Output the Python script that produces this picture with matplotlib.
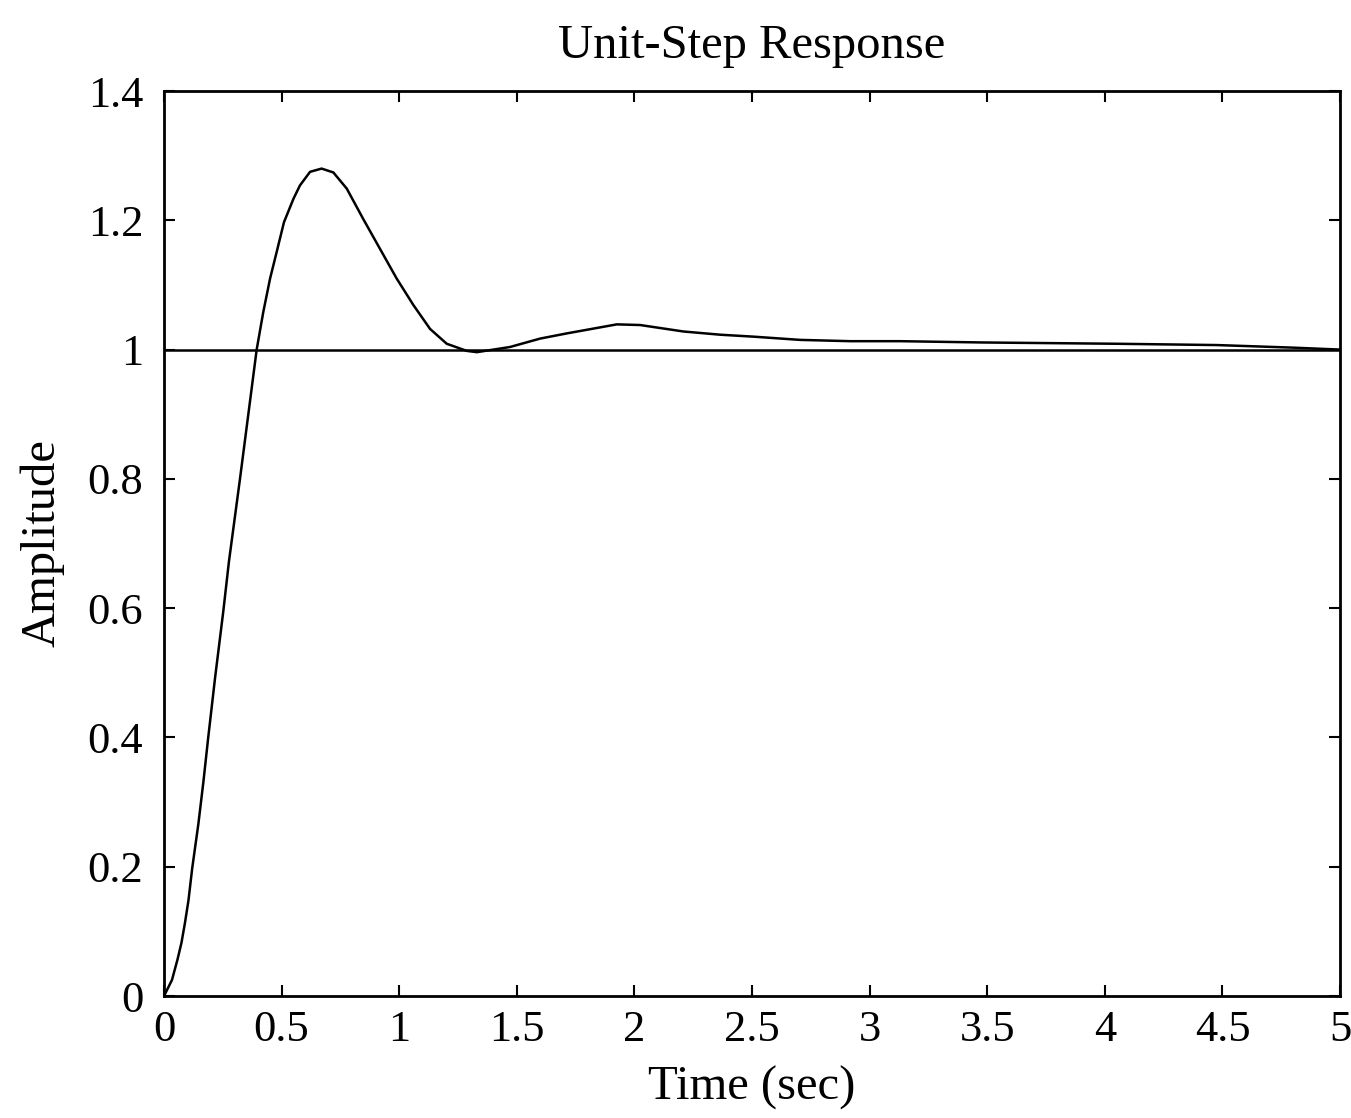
import matplotlib
matplotlib.use("Agg")
import matplotlib.pyplot as plt

plt.rcParams["font.family"] = ["Liberation Serif", "DejaVu Serif"]

# values
time_s = [0, 0.034, 0.057, 0.074, 0.089, 0.104, 0.120, 0.146, 0.167, 0.188,
          0.217, 0.252, 0.276, 0.323, 0.394, 0.422, 0.451, 0.479, 0.510,
          0.550, 0.578, 0.621, 0.670, 0.720, 0.777, 0.847, 0.918, 0.989,
          1.060, 1.131, 1.202, 1.287, 1.33, 1.471, 1.599, 1.712, 1.925,
          2.024, 2.208, 2.365, 2.506, 2.704, 2.917, 3.129, 3.48, 4.05,
          4.476, 4.80, 5.0]
amplitude = [0, 0.025, 0.056, 0.082, 0.113, 0.148, 0.198, 0.266, 0.330, 0.400,
             0.492, 0.595, 0.672, 0.80, 1.0, 1.058, 1.110, 1.151, 1.197,
             1.233, 1.254, 1.275, 1.280, 1.274, 1.249, 1.202, 1.156, 1.110,
             1.069, 1.032, 1.009, 0.998, 0.996, 1.004, 1.017, 1.025, 1.039,
             1.038, 1.028, 1.023, 1.020, 1.015, 1.013, 1.013, 1.011, 1.009,
             1.007, 1.003, 1.0]
reference_level = 1.0

x_ticks = [0, 0.5, 1, 1.5, 2, 2.5, 3, 3.5, 4, 4.5, 5]
x_labels = ["0", "0.5", "1", "1.5", "2", "2.5", "3", "3.5", "4", "4.5", "5"]
y_ticks = [0, 0.2, 0.4, 0.6, 0.8, 1.0, 1.2, 1.4]
y_labels = ["0", "0.2", "0.4", "0.6", "0.8", "1", "1.2", "1.4"]

fig = plt.figure(figsize=(13.51, 11.18), dpi=100)
ax = fig.add_axes([0.1214, 0.1091, 0.8705, 0.8095])

ax.plot(time_s, amplitude, color="black", linewidth=1.8)
ax.axhline(reference_level, color="black", linewidth=1.8)

ax.set_xlim(0, 5)
ax.set_ylim(0, 1.4)
ax.set_xticks(x_ticks)
ax.set_xticklabels(x_labels)
ax.set_yticks(y_ticks)
ax.set_yticklabels(y_labels)

ax.tick_params(direction="in", length=8, width=1.5, top=True, right=True,
               labelsize=32)
ax.tick_params(axis="x", pad=10)
ax.tick_params(axis="y", pad=15)
for spine in ax.spines.values():
    spine.set_linewidth(2)

ax.set_title("Unit-Step Response", fontsize=35, pad=24)
ax.set_xlabel("Time (sec)", fontsize=35)
ax.set_ylabel("Amplitude", fontsize=35)
ax.xaxis.set_label_coords(0.5, -0.077)
ax.yaxis.set_label_coords(-0.085, 0.5)

fig.savefig("out.png", dpi=100)
